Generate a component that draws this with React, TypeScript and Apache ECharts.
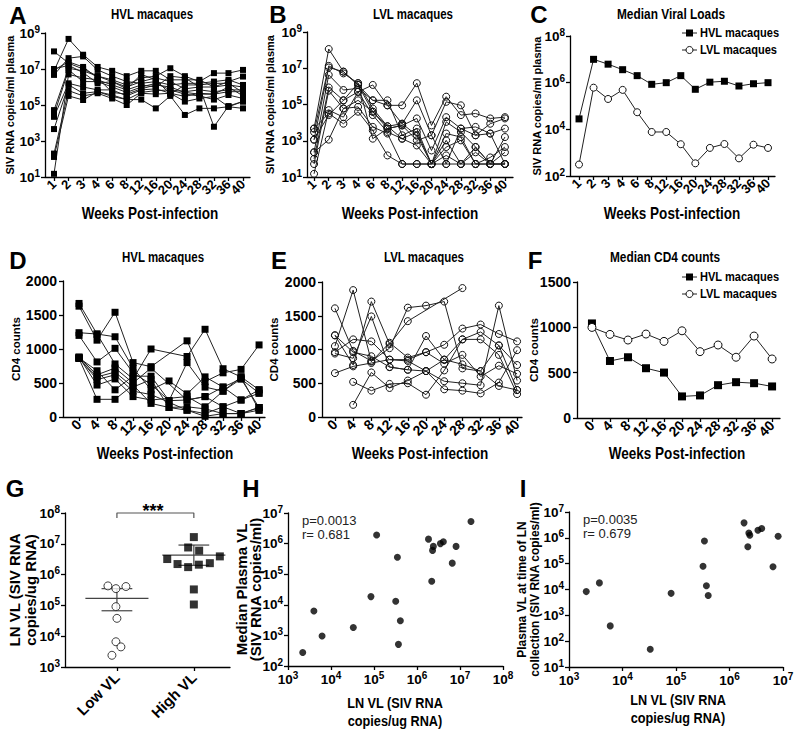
import React, { useEffect, useRef } from 'react';
import * as echarts from 'echarts';

// ---------- categories / tick labels ----------
const weeksVL = ['1', '2', '3', '4', '6', '8', '12', '16', '20', '24', '28', '32', '36', '40'];
const weeksCD4 = ['0', '4', '8', '12', '16', '20', '24', '28', '32', '36', '40'];
const groupsG = ['Low VL', 'High VL'];
const legendNames = ['HVL macaques', 'LVL macaques'];

// ---------- A: HVL individual viral loads (copies/ml) ----------
const hvlVL = [
  [9.5e7, 2.1e7, 1e7, 4e6, 2.5e6, 1.3e6, 3.2e6, 4e6, 1.1e7, 4e6, 2e6, 5.9e6, 5.9e6, 8.9e6],
  [7.9e6, 4.7e8, 6.2e7, 1.3e7, 7.9e6, 4e6, 7.9e6, 7.9e6, 2.5e6, 2.5e6, 2.5e6, 1e6, 2e6, 3.8e6],
  [4.7e6, 4e7, 5e7, 8.9e6, 4e6, 2e6, 1.6e6, 2e6, 1.3e6, 1.6e6, 1.6e6, 2e6, 2.5e6, 1.3e6],
  [5.2e4, 1.1e7, 7.9e6, 4e6, 2e6, 1e6, 2e6, 3.2e6, 2e6, 7.9e5, 1e6, 1e6, 1.3e6, 1e6],
  [2.8e4, 8.9e6, 2e6, 2e6, 1e6, 5e5, 1e6, 1.6e6, 6.9e5, 5.5e5, 6.9e5, 5.5e5, 6.9e5, 6.9e5],
  [2.2e4, 1.6e6, 1e6, 6.9e5, 6.9e5, 3.2e5, 6.9e5, 7.9e5, 4.5e5, 3e5, 4.5e5, 4e5, 5.5e5, 5.5e5],
  [4.6e3, 1.3e6, 4.5e5, 5.5e5, 3.6e5, 2e5, 5e5, 6.3e5, 6.9e5, 4e5, 3.2e5, 2e5, 3.6e5, 2.3e5],
  [200, 6.3e5, 3.2e5, 4.5e5, 2.3e5, 1e5, 4.5e5, 4e5, 4.5e5, 1.55e5, 2.3e5, 3e5, 8e4, 1.55e5],
  [130, 3.2e5, 1.9e5, 5.5e5, 3e5, 2e5, 2e5, 6.5e4, 3.2e5, 2.8e4, 6.5e4, 6.5e4, 8e4, 6.5e4],
  [15, 5e6, 3.2e6, 2.5e6, 1.3e6, 6.9e5, 1.3e6, 1e6, 4e6, 3.2e6, 1e6, 6.2e3, 8.7e4, 1.6e5],
  [1e7, 1.6e7, 6.3e6, 1.6e6, 2e6, 7.9e5, 5e6, 2.5e6, 4e5, 1.3e6, 1.3e6, 1.6e6, 1.6e6, 5e5],
  [8.9e6, 2.5e7, 1.3e7, 3.2e6, 5e5, 4e5, 7.9e5, 1.3e6, 1e6, 5e5, 4e5, 4e5, 1e6, 3.2e5],
];

// ---------- B: LVL individual viral loads ----------
const lvlVL = [
  [4.7e3, 1.15e8, 6.5e6, 1.2e6, 1.7e5, 9e4, 9e4, 1.5e6, 7e3, 2.7e5, 2.6e4, 3.2e4, 1.7e4, 2e4],
  [3e3, 1.35e7, 5.2e6, 1.5e6, 6e4, 6.3e3, 8.7e3, 1.7e5, 2e3, 1.4e5, 9e4, 2e3, 8.7e3, 1.7e4],
  [1.15e3, 1.1e7, 6.5e6, 1.2e6, 4e4, 4.7e3, 7e3, 1.7e4, 290, 2e4, 4.7e3, 5.8e3, 2.5e3, 4.7e3],
  [230, 4.3e6, 6.3e5, 7.8e5, 1.7e5, 1.7e5, 2e3, 4.7e3, 52, 1.1e4, 3e3, 450, 52, 1.6e3],
  [100, 8.7e5, 1.7e5, 5e5, 2.6e4, 3e3, 1.3e3, 3e3, 52, 2.5e3, 1.6e3, 52, 120, 450],
  [52, 5.8e5, 6e4, 7.4e4, 5.8e3, 2.5e3, 52, 52, 52, 1.05e3, 52, 230, 52, 230],
  [15, 4.9e4, 2e4, 5e5, 1.2e6, 9e4, 8.7e3, 2e3, 52, 450, 1.05e3, 52, 52, 52],
  [4.7e3, 3.2e4, 8.7e3, 4e4, 3.7e3, 155, 52, 52, 52, 155, 52, 52, 52, 52],
  [1.15e3, 2.6e4, 1.7e5, 1.5e6, 1.3e3, 4.7e3, 7e3, 1.05e3, 2e3, 52, 4.7e3, 2e3, 2.5e3, 52],
  [230, 1.15e3, 6e4, 1.7e5, 4e4, 6.3e3, 1.3e3, 550, 52, 52, 52, 450, 52, 52],
];

// ---------- C: median viral loads ----------
const medHvlVL = [2.8e4, 1e7, 6.2e6, 3.6e6, 2e6, 8.5e5, 1e6, 2e6, 5.2e5, 1.05e6, 1.15e6, 7.2e5, 9e5, 1e6];
const medLvlVL = [310, 6.1e5, 2e5, 4.9e5, 5.4e4, 7.7e3, 7.7e3, 2.3e3, 350, 1.6e3, 2.35e3, 570, 2.2e3, 1.6e3];

// ---------- D: HVL CD4 counts ----------
const hvlCD4 = [
  [1670, 1220, 780, 560, 1000, null, 890, 1290, 710, 590, 400],
  [1630, 1130, 1540, 800, 740, null, 1120, 520, 650, 700, 1060],
  [1240, 1220, 1180, 720, 400, 530, 340, 590, 440, 250, 350],
  [1200, 810, 1010, 650, 480, 240, 800, 440, 380, 560, 140],
  [880, 620, 720, 500, 720, null, 250, 300, 150, 50, 100],
  [860, 590, 660, 440, 550, 140, 150, 120, 50, 50, 140],
  [870, 550, 620, 380, 330, null, 100, 50, 150, 250, 400],
  [880, 470, 560, 300, 250, null, 300, 150, 380, 590, 100],
  [860, 260, 260, 470, 200, 140, 100, 10, 50, 50, 140],
  [870, 680, 400, 600, 600, 240, 250, 300, 440, 560, 350],
];

// ---------- E: LVL CD4 counts ----------
const lvlCD4 = [
  [1610, 980, 830, 1020, 1620, 1650, 1710, 720, 680, 1060, 400],
  [1210, 770, 1710, 1080, 1420, null, null, 1910, null, null, null],
  [1050, 1880, 820, 1100, 880, 960, 1070, 1310, 1370, 1230, 1120],
  [960, 1150, 1120, 850, 830, 680, 530, 500, 470, 1650, 540],
  [940, 870, 1490, 740, 700, 1200, 850, 1150, 1260, 1060, 770],
  [650, 750, 800, 850, 850, 960, 790, 920, 600, 760, 640],
  [null, 520, 390, 490, 500, 330, 690, 1150, 1150, 920, 340],
  [null, 180, 660, 430, 540, 680, 410, 390, 350, 510, 990],
  [1210, 960, 900, 740, 700, 680, 850, 780, 680, 460, 400],
];

// ---------- F: median CD4 counts ----------
const medHvlCD4 = [1043, 629, 670, 549, 501, 238, 249, 362, 395, 384, 348];
const medLvlCD4 = [999, 922, 860, 926, 845, 962, 732, 805, 670, 904, 651];

// ---------- G: LN viral loads ----------
const lowVL = [4.3e5, 3.5e5, 4.1e5, 9.1e4, 3.8e4, 6.6e3, 4.5e3, 2.4e3];
const lowJitter = [-0.117, -0.013, 0.117, -0.013, 0, -0.013, 0.052, -0.065];
const highVL = [1.65e7, 7.6e6, 6e6, 3.2e6, 3.9e6, 2.2e6, 1.75e6, 2.1e6, 2.35e6, 3.3e5, 1.07e5];
const highJitter = [0, -0.074, 0.069, -0.346, 0.338, -0.212, -0.074, 0.065, 0.208, 0, 0];
const gMean = [1.7e5, 4.3e6];
const gUpper = [3.5e5, 9.1e6];
const gLower = [6.7e4, 2.0e6];
const sigTop = 1e8;
const sigFoot = 6.9e7;

// ---------- H: LN VL vs median plasma VL ----------
const hLN = [2.2e3, 4e3, 6.2e3, 3.3e4, 8.5e4, 1.15e5, 3.5e5, 3.2e5, 4.1e5, 3.7e5, 1.85e6, 2.4e6, 2.3e6, 2.2e6, 3.5e6, 4.1e6, 6.6e6, 8.1e6, 1.8e7];
const hPlasma = [275, 6.3e3, 960, 1.8e3, 1.85e4, 1.9e6, 3.6e5, 1.3e4, 3e3, 510, 1.4e6, 8.1e5, 6e5, 5.9e4, 1e6, 1.15e6, 2.3e5, 8.1e5, 5.3e6];

// ---------- I: LN VL vs plasma VL at LN collection ----------
const iLN = [2.1e3, 3.7e3, 5.9e3, 3.3e4, 8.1e4, 3.2e5, 3.4e5, 3.7e5, 4e5, 1.87e6, 2.2e6, 2.3e6, 2.4e6, 3.4e6, 4e6, 6.5e6, 8.1e6];
const iPlasma = [8.3e3, 1.8e4, 390, 49, 7.1e3, 7.9e4, 7.6e5, 1.4e4, 5.9e3, 3.8e6, 4.5e5, 1.55e6, 1.26e6, 1.96e6, 2.3e6, 7.6e4, 1.15e6];

// ---------- styling ----------
const F_SANS = "'Liberation Sans', Arial, Helvetica, sans-serif";
const NARROW = 0.82; // horizontal compression used for the condensed headings
const AX_LINE = { show: true, onZero: false, lineStyle: { color: '#000', width: 1.3 } };
const TICK = { show: true, length: 4, lineStyle: { color: '#000', width: 1.3 } };

const supFmt = (v: number) => '10{s|' + Math.round(Math.log10(v)) + '}';
const logLabel = (size: number, margin: number) => ({
  show: true,
  color: '#000',
  fontFamily: F_SANS,
  fontWeight: 'bold',
  fontSize: size,
  margin,
  lineHeight: 18,
  showMinLabel: true,
  showMaxLabel: true,
  hideOverlap: false,
  formatter: supFmt,
  rich: {
    s: { color: '#000', fontFamily: F_SANS, fontWeight: 'bold', fontSize: Math.round(size * 0.72), verticalAlign: 'top', lineHeight: 11 },
  },
});

const nameStyle = (size: number, lineHeight?: number) => ({
  fontFamily: F_SANS,
  fontWeight: 'bold',
  fontSize: size,
  color: '#000',
  lineHeight: lineHeight || Math.round(size * 1.2),
});

function logAxis(gridIndex: number, min: number, max: number, interval: number, name: string, nameGap: number, nameSize: number, vertical: boolean, lineHeight?: number) {
  return {
    type: 'log',
    logBase: 10,
    gridIndex,
    min,
    max,
    interval,
    axisLine: AX_LINE,
    axisTick: TICK,
    minorTick: { show: false },
    axisLabel: logLabel(13.5, vertical ? 5 : 4),
    splitLine: { show: false },
    name,
    nameLocation: 'middle',
    nameGap,
    nameRotate: vertical ? 90 : 0,
    nameMoveOverlap: false,
    nameTextStyle: nameStyle(nameSize, lineHeight),
  };
}

function cd4YAxis(gridIndex: number, max: number, nameGap: number) {
  return {
    type: 'value',
    gridIndex,
    min: 0,
    max,
    interval: 500,
    axisLine: AX_LINE,
    axisTick: TICK,
    axisLabel: {
      color: '#000',
      fontFamily: F_SANS,
      fontWeight: 'bold',
      fontSize: 14,
      margin: 6,
      formatter: (v: number) => String(v),
    },
    splitLine: { show: false },
    name: 'CD4 counts',
    nameLocation: 'middle',
    nameGap,
    nameRotate: 90,
    nameMoveOverlap: false,
    nameTextStyle: nameStyle(11.5),
  };
}

const sq = (size: number) => ({ symbol: 'rect', symbolSize: size, itemStyle: { color: '#000' } });
const oc = (size: number, fill = 'rgba(0,0,0,0)') => ({
  symbol: 'circle',
  symbolSize: size,
  itemStyle: { color: fill, borderColor: '#111', borderWidth: 1 },
});
const LINE = { color: '#222', width: 1 };

function buildOption() {
  const grids = [
    { left: 45, top: 33, width: 205, height: 144 },
    { left: 307, top: 32, width: 206, height: 145 },
    { left: 570, top: 36, width: 205, height: 140 },
    { left: 63, top: 281, width: 202, height: 136 },
    { left: 322, top: 282, width: 200, height: 135 },
    { left: 577, top: 282, width: 203, height: 136 },
    { left: 65, top: 513, width: 165, height: 154 },
    { left: 288, top: 513, width: 215, height: 153 },
    { left: 569, top: 512, width: 214, height: 155 },
  ].map((g) => ({ ...g, containLabel: false, outerBoundsMode: 'none' }));

  const xAxis: any[] = [];
  const xOf: number[] = [];

  // week axes: labels split over two overlaid axes so that no rotated label gets auto-hidden
  const addWeekAxes = (grid: number, labels: string[], min: number, max: number, fontSize: number) => {
    xOf[grid] = xAxis.length;
    const all = labels.map((_, i) => i);
    const lab = (vals: number[]) => ({
      customValues: vals,
      formatter: (v: number) => labels[Math.round(v)] ?? '',
      rotate: 45,
      margin: 5,
      fontSize,
      fontWeight: 'bold',
      fontFamily: F_SANS,
      color: '#000',
      hideOverlap: false,
    });
    const base = { type: 'value', gridIndex: grid, min, max, position: 'bottom', offset: 0, splitLine: { show: false } };
    xAxis.push({ ...base, axisLine: AX_LINE, axisTick: { ...TICK, customValues: all }, axisLabel: lab(all.filter((i) => i % 2 === 0)) });
    xAxis.push({ ...base, axisLine: { show: false, onZero: false }, axisTick: { show: false }, axisLabel: lab(all.filter((i) => i % 2 === 1)) });
  };
  addWeekAxes(0, weeksVL, -0.62, 13.48, 13);
  addWeekAxes(1, weeksVL, -0.48, 13.55, 13);
  addWeekAxes(2, weeksVL, -0.62, 13.48, 13);
  addWeekAxes(3, weeksCD4, -0.89, 10.33, 14);
  addWeekAxes(4, weeksCD4, -0.71, 10.27, 14);
  addWeekAxes(5, weeksCD4, -0.83, 10.44, 14);

  const gIdx = [0, 1];
  xOf[6] = xAxis.length;
  xAxis.push({
    type: 'value',
    gridIndex: 6,
    min: -0.675,
    max: 1.47,
    axisLine: AX_LINE,
    axisTick: { ...TICK, customValues: gIdx },
    axisLabel: {
      customValues: gIdx,
      formatter: (v: number) => groupsG[Math.round(v)] ?? '',
      rotate: 45,
      margin: 8,
      fontSize: 15,
      fontWeight: 'bold',
      fontFamily: F_SANS,
      color: '#000',
      showMinLabel: true,
      showMaxLabel: true,
    },
    splitLine: { show: false },
  });
  xOf[7] = xAxis.length;
  xAxis.push({ ...logAxis(7, 1e3, 1e8, 1, '', 0, 15, false), name: '' });
  xOf[8] = xAxis.length;
  xAxis.push({ ...logAxis(8, 1e3, 1e7, 1, '', 0, 15, false), name: '' });

  const yAxis: any[] = [
    logAxis(0, 10, 1e9, 2, 'SIV RNA copies/ml plasma', 29, 11, true),
    logAxis(1, 10, 1e9, 2, 'SIV RNA copies/ml plasma', 31, 11, true),
    logAxis(2, 100, 1e8, 2, 'SIV RNA copies/ml plasma', 27, 11, true),
    cd4YAxis(3, 2000, 40),
    cd4YAxis(4, 2000, 41),
    cd4YAxis(5, 1500, 36),
    logAxis(6, 1e3, 1e8, 1, 'LN VL (SIV RNA\ncopies/ug RNA)', 27, 15, true, 16),
    logAxis(7, 1e2, 1e7, 1, 'Median Plasma VL\n(SIV RNA copies/ml)', 26, 15, true, 14),
    logAxis(8, 10, 1e7, 1, 'Plasma VL at time of LN\ncollection (SIV RNA copies/ml)', 28, 12, true, 13),
  ];

  const lineSeries = (name: string, grid: number, values: (number | null)[], marker: any) => {
    const data: any[] = [];
    values.forEach((v, i) => {
      if (v !== null && v !== undefined) data.push([i, v]);
    });
    return {
      type: 'line',
      name,
      xAxisIndex: xOf[grid],
      yAxisIndex: grid,
      data,
      ...marker,
      lineStyle: LINE,
      silent: true,
      clip: false,
    };
  };

  const series: any[] = [];
  hvlVL.forEach((arr, k) => series.push(lineSeries('A' + k, 0, arr, sq(6))));
  lvlVL.forEach((arr, k) => series.push(lineSeries('B' + k, 1, arr, oc(7))));
  series.push(lineSeries(legendNames[0], 2, medHvlVL, sq(7)));
  series.push(lineSeries(legendNames[1], 2, medLvlVL, oc(7, '#fff')));
  hvlCD4.forEach((arr, k) => series.push(lineSeries('D' + k, 3, arr, sq(7))));
  lvlCD4.forEach((arr, k) => series.push(lineSeries('E' + k, 4, arr, oc(7))));
  series.push(lineSeries(legendNames[0], 5, medHvlCD4, sq(8)));
  series.push(lineSeries(legendNames[1], 5, medLvlCD4, oc(8, '#fff')));

  // G: mean / error bars
  const ERR = { color: '#444', width: 1.2 };
  const seg = (pts: number[][]) => ({
    type: 'line',
    xAxisIndex: xOf[6],
    yAxisIndex: 6,
    data: pts,
    symbol: 'none',
    lineStyle: ERR,
    silent: true,
    clip: false,
    z: 1,
  });
  gMean.forEach((m, i) => {
    series.push(seg([[i - 0.41, m], [i + 0.41, m]]));
    series.push(seg([[i - 0.2, gUpper[i]], [i + 0.2, gUpper[i]]]));
    series.push(seg([[i - 0.2, gLower[i]], [i + 0.2, gLower[i]]]));
    series.push(seg([[i, gLower[i]], [i, gUpper[i]]]));
  });
  series.push({
    ...seg([[0, sigFoot], [0, sigTop], [1, sigTop], [1, sigFoot]]),
    lineStyle: { color: '#555', width: 1.2 },
  });
  series.push({
    type: 'scatter',
    xAxisIndex: xOf[6],
    yAxisIndex: 6,
    data: lowVL.map((v, i) => [lowJitter[i], v]),
    ...oc(8, '#fff'),
    silent: true,
    z: 3,
  });
  series.push({
    type: 'scatter',
    xAxisIndex: xOf[6],
    yAxisIndex: 6,
    data: highVL.map((v, i) => [1 + highJitter[i], v]),
    ...sq(8),
    silent: true,
    z: 3,
  });
  series.push({
    type: 'scatter',
    xAxisIndex: xOf[7],
    yAxisIndex: 7,
    data: hLN.map((x, i) => [x, hPlasma[i]]),
    symbol: 'circle',
    symbolSize: 7,
    itemStyle: { color: '#000' },
    silent: true,
  });
  series.push({
    type: 'scatter',
    xAxisIndex: xOf[8],
    yAxisIndex: 8,
    data: iLN.map((x, i) => [x, iPlasma[i]]),
    symbol: 'circle',
    symbolSize: 7,
    itemStyle: { color: '#000' },
    silent: true,
  });

  const txt = (text: string, x: number, y: number, size: number, opts: any = {}) => ({
    type: 'text',
    x,
    y,
    scaleX: opts.scaleX || 1,
    silent: true,
    z: 10,
    style: {
      text,
      fill: opts.fill || '#000',
      fontSize: size,
      fontWeight: opts.weight || 'bold',
      fontFamily: F_SANS,
      lineHeight: opts.lineHeight,
      align: opts.align || 'center',
      textAlign: opts.align || 'center',
      verticalAlign: 'middle',
      textVerticalAlign: 'middle',
    },
  });
  const nar = (text: string, x: number, y: number, size: number, extra: any = {}) =>
    txt(text, x, y, size, { scaleX: NARROW, ...extra });

  // hand-drawn legends (line + marker + condensed text)
  const legend = (top: number) => {
    const els: any[] = [];
    const ys = [top, top + 17];
    ys.forEach((y, k) => {
      els.push({ type: 'line', silent: true, shape: { x1: 682, y1: y, x2: 697, y2: y }, style: { stroke: '#222', lineWidth: 1 } });
      if (k === 0) {
        els.push({ type: 'rect', silent: true, shape: { x: 686, y: y - 3.5, width: 7, height: 7 }, style: { fill: '#000' } });
      } else {
        els.push({ type: 'circle', silent: true, shape: { cx: 689.5, cy: y, r: 3.5 }, style: { fill: '#fff', stroke: '#111', lineWidth: 1 } });
      }
      els.push(nar(legendNames[k], 700, y, 13.5, { align: 'left' }));
    });
    return els;
  };

  const graphic = [
    txt('A', 18, 15, 24),
    txt('B', 278, 14, 24),
    txt('C', 539, 14, 24),
    txt('D', 18, 260, 24),
    txt('E', 279, 260, 24),
    txt('F', 535, 260, 24),
    txt('G', 15, 488, 24),
    txt('H', 251, 488, 24),
    txt('I', 523, 488, 24),
    nar('HVL macaques', 152, 14, 14),
    nar('LVL macaques', 413, 14, 14),
    nar('Median Viral Loads', 671, 14, 14.5),
    nar('HVL macaques', 163, 257, 14),
    nar('LVL macaques', 424, 257, 14),
    nar('Median CD4 counts', 665, 257, 14.5),
    nar('Weeks Post-infection', 150, 213, 16.5),
    nar('Weeks Post-infection', 410, 213, 16.5),
    nar('Weeks Post-infection', 672, 213, 16.5),
    nar('Weeks Post-infection', 165, 453, 16.5),
    nar('Weeks Post-infection', 420, 453, 16.5),
    nar('Weeks Post-infection', 677, 453, 16.5),
    nar('LN VL (SIV RNA\ncopies/ug RNA)', 395, 712, 15.5, { lineHeight: 18 }),
    nar('LN VL (SIV RNA\ncopies/ug RNA)', 678, 709, 15.5, { lineHeight: 18 }),
    txt('***', 153, 511, 18),
    txt('p=0.0013', 302, 520, 13, { weight: 'normal', align: 'left', fill: '#222' }),
    txt('r= 0.681', 302, 534, 13, { weight: 'normal', align: 'left', fill: '#222' }),
    txt('p=0.0035', 583, 519, 13, { weight: 'normal', align: 'left', fill: '#222' }),
    txt('r= 0.679', 583, 533, 13, { weight: 'normal', align: 'left', fill: '#222' }),
    ...legend(33),
    ...legend(277),
  ];

  return {
    animation: false,
    backgroundColor: '#fff',
    grid: grids,
    xAxis,
    yAxis,
    series,
    graphic,
  };
}

export default function App() {
  const ref = useRef<HTMLDivElement>(null);
  useEffect(() => {
    if (!ref.current) return;
    const chart = echarts.init(ref.current, null, { renderer: 'svg', width: 800, height: 736 });
    chart.setOption(buildOption() as any);
    return () => chart.dispose();
  }, []);
  return (
    <div
      ref={ref}
      style={{ position: 'absolute', left: 0, top: 0, width: 800, height: 736, background: '#fff' }}
    />
  );
}
